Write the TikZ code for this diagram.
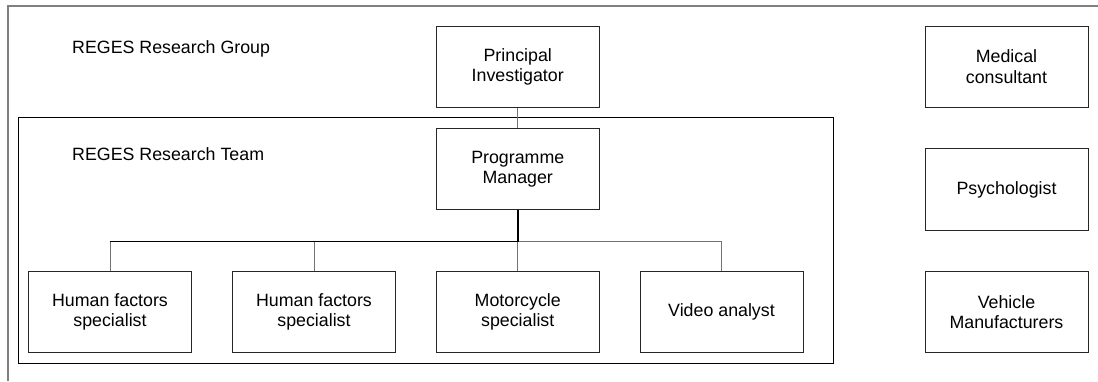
\documentclass[tikz,border=0pt]{standalone}
\usepackage{fontspec}
\setmainfont{Liberation Sans}
\begin{document}
\begin{tikzpicture}[x=1pt,y=-1pt,
  role/.style={draw=black!85, line width=1pt, minimum width=163pt, minimum height=81.5pt,
    inner sep=0pt, align=center, font=\fontsize{17.8}{20.7}\selectfont},
  heading/.style={anchor=base west, inner sep=0pt, font=\fontsize{17.8}{20.7}\selectfont},
  frameline/.style={draw=black!50, line width=1.4pt},
  teamframe/.style={draw=black, line width=1pt},
  link/.style={draw=black!55, line width=1pt},
  trunk/.style={draw=black, line width=2pt}]
\useasboundingbox (0,0) rectangle (1098,381);

% group frame: top and left rules only
\draw[frameline] (1098,6) -- (8,6) -- (8,381);
% team frame
\draw[teamframe] (18,117) rectangle (833,363);

\node[heading] (grp) at (72,53.3) {REGES Research Group};
\node[heading] (team) at (72,160) {REGES Research Team};

\node[role] (pi) at (517.75,66.9) {Principal\\Investigator};
\node[role] (pm) at (517.75,169.2) {Programme\\Manager};

\node[role] (hf1) at (110,312) {Human factors\\specialist};
\node[role] (hf2) at (314,312) {Human factors\\specialist};
\node[role] (moto) at (517.75,312) {Motorcycle\\specialist};
\node[role] (video) at (721.5,312) {Video analyst};

\node[role] (med) at (1006.5,66.9) {Medical\\consultant};
\node[role] (psy) at (1006.5,189.5) {Psychologist};
\node[role] (veh) at (1006.5,312) {Vehicle\\Manufacturers};

\coordinate (bus) at (517.75,241.7);

\draw[link] (pi.south) -- (pm.north);
\draw[draw=black, line width=1pt] (bus) -| (hf1.north);
\draw[draw=black, line width=1pt] (bus) -| (hf2.north);
\draw[link] (hf2.north) -- (hf2.north |- bus);
\draw[link] (hf1.north) -- (hf1.north |- bus);
\draw[link] (bus) -| (video.north);
\draw[link] (bus) -- (moto.north);
\draw[trunk] (pm.south) -- (bus);
\end{tikzpicture}
\end{document}
